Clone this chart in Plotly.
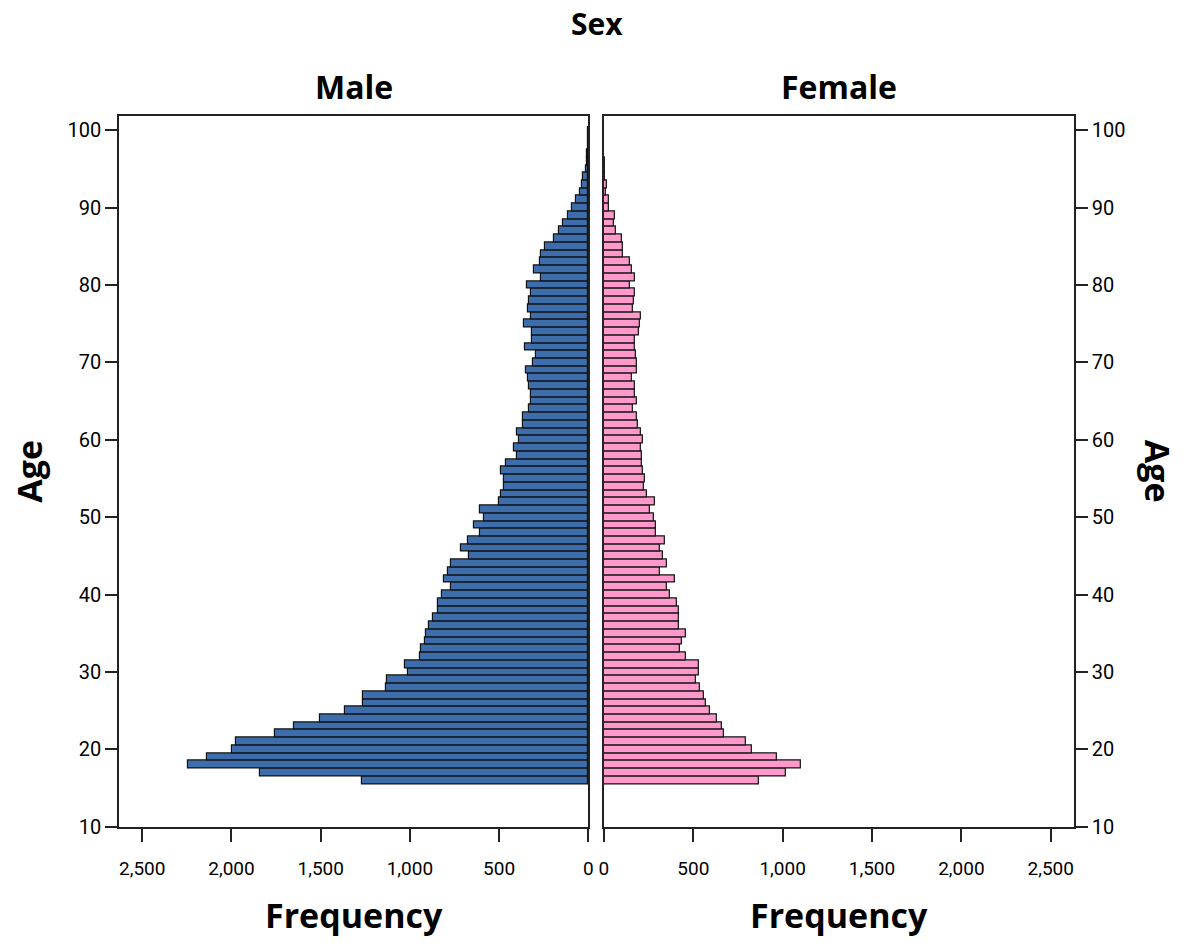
import plotly.graph_objects as go

ages = list(range(16, 101))

male = [1270, 1840, 2242, 2135, 1998, 1976, 1755, 1650, 1502, 1365,
        1265, 1265, 1136, 1128, 1012, 1030, 943, 938, 916, 912,
        893, 873, 841, 841, 820, 768, 808, 786, 768, 670,
        716, 675, 605, 638, 586, 605, 503, 490, 472, 472,
        490, 462, 398, 416, 388, 398, 364, 364, 333, 324,
        324, 333, 337, 351, 309, 296, 355, 318, 318, 360,
        324, 336, 333, 324, 346, 264, 305, 272, 264, 240,
        190, 166, 142, 115, 92, 68, 46, 33, 28, 12,
        8, 6, 3, 2, 1]

female = [870, 1019, 1102, 969, 826, 796, 669, 663, 630, 593,
          570, 561, 537, 515, 533, 533, 459, 428, 437, 459,
          419, 419, 422, 407, 372, 352, 398, 311, 352, 330,
          311, 343, 289, 289, 278, 256, 283, 241, 224, 228,
          219, 213, 215, 209, 219, 206, 191, 185, 163, 185,
          172, 172, 159, 185, 185, 181, 172, 172, 196, 200,
          206, 163, 167, 172, 144, 172, 159, 144, 107, 107,
          102, 67, 55, 61, 28, 30, 12, 15, 7, 4,
          3, 2, 1, 1, 1]

freq_ticks = [0, 500, 1000, 1500, 2000, 2500]
age_ticks = [10, 20, 30, 40, 50, 60, 70, 80, 90, 100]

W, H = 1190, 949
MALE_COLOR = "#3D6EAB"
FEMALE_COLOR = "#FF99CC"
TITLE_FONT = "Open Sans"
TICK_FONT = "Liberation Sans Narrow, Roboto, Open Sans"

fig = go.Figure()
fig.add_trace(go.Bar(y=ages, x=male, orientation="h", width=1,
                     marker=dict(color=MALE_COLOR, line=dict(color="#111111", width=1.2)),
                     xaxis="x", yaxis="y", name="Male", showlegend=False))
fig.add_trace(go.Bar(y=ages, x=female, orientation="h", width=1,
                     marker=dict(color=FEMALE_COLOR, line=dict(color="#111111", width=1.2)),
                     xaxis="x2", yaxis="y2", name="Female", showlegend=False))

def px(x):
    return x / W

def py(y):
    return 1 - y / H

ydom = [py(837.3), py(117)]
yrange = [10, 101.9]
fmax = 2630

axis_common = dict(showline=True, linecolor="#222222", linewidth=1.5, mirror=True,
                   showgrid=False, zeroline=False, ticks="outside",
                   tickwidth=1.5, tickcolor="#222222")

xtick_font = dict(family=TICK_FONT, size=19, color="black")
ytick_font = dict(family=TICK_FONT, size=20, color="black")

fig.update_layout(
    width=W, height=H,
    margin=dict(l=0, r=0, t=0, b=0),
    paper_bgcolor="white", plot_bgcolor="white",
    bargap=0,
    xaxis=dict(domain=[px(115), px(588.3)], range=[fmax, 0], anchor="y",
               tickvals=freq_ticks, tickformat=",d", ticklen=14, ticklabelstandoff=10,
               tickfont=xtick_font, **axis_common),
    xaxis2=dict(domain=[px(604), px(1078)], range=[0, fmax], anchor="y2",
                tickvals=freq_ticks, tickformat=",d", ticklen=14, ticklabelstandoff=10,
                tickfont=xtick_font, **axis_common),
    yaxis=dict(domain=ydom, range=yrange, anchor="x", side="left",
               tickvals=age_ticks, ticklen=12,
               tickfont=ytick_font, **axis_common),
    yaxis2=dict(domain=ydom, range=yrange, anchor="x2", side="right",
                tickvals=age_ticks, ticklen=12,
                tickfont=ytick_font, **axis_common),
)

def ann(text, x, y, size, angle=0):
    fig.add_annotation(text=text, x=px(x), y=py(y), xref="paper", yref="paper",
                       showarrow=False, textangle=angle, xanchor="center", yanchor="middle",
                       font=dict(family=TITLE_FONT, size=size, color="black", weight="bold"))

ann("Sex", 597, 24, 30)
ann("Male", 352, 88, 32)
ann("Female", 841, 88, 32)
ann("Frequency", 352, 927, 34)
ann("Frequency", 841, 927, 34)
ann("Age", 24, 477, 34, -90)
ann("Age", 1163, 477, 34, 90)

fig.write_html("out.html")
